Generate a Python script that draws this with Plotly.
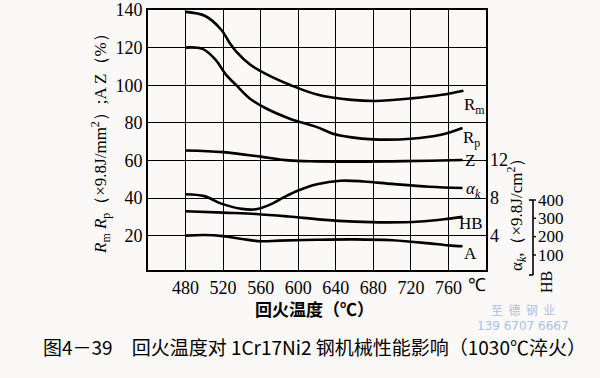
import plotly.graph_objects as go

# ---------------- data ----------------
temp_ticks = [480, 520, 560, 600, 640, 680, 720, 760]

rm_t = [480, 501, 518, 527, 534, 549, 567, 592, 621, 657, 682, 721, 753, 776]
rm_v = [139, 136.8, 129.5, 122.5, 117.9, 110.9, 105.6, 100, 94.9, 92.2, 91.6, 93, 94.9, 97.1]

rp_t = [480, 498, 512, 523, 534, 548, 566, 591, 620, 637, 655, 680, 720, 752, 775]
rp_v = [120, 119.3, 113.5, 105.6, 100, 93.1, 87.6, 82.2, 77.7, 74.2, 72.4, 71.2, 71.5, 73.6, 77.2]

z_t = [480, 520, 560, 590, 620, 660, 700, 740, 775]
z_v = [65.3, 64.4, 62, 60, 59.5, 59.3, 59.5, 59.8, 60.2]

ak_t = [480, 500, 518, 540, 555, 570, 585, 600, 620, 645, 670, 700, 740, 775]
ak_v = [8.4, 8.2, 7.4, 6.84, 6.8, 7.3, 8.1, 8.8, 9.46, 9.84, 9.76, 9.5, 9.2, 9.06]

hb_t = [480, 520, 555, 590, 625, 660, 695, 730, 755, 775]
hb_v = [339, 331, 324, 310, 293, 282, 278, 283, 295, 308]

a_t = [480, 500, 520, 540, 560, 580, 620, 660, 700, 737, 760, 775]
a_v = [20, 20.3, 19.7, 18.2, 17, 17.3, 17.8, 18, 17.5, 16, 14.8, 14.3]

left_ticks = [20, 40, 60, 80, 100, 120, 140]
ak_ticks = [4, 8, 12]
hb_ticks = [100, 200, 300, 400]

X_RANGE = [440, 800]
Y_RANGE = [1.7, 140]
AK_PER_LEFT = 5                 # right-hand scale: alpha_k 12 sits on the left-axis 60 line
HB_RANGE = [18.2, 1436.4]       # HB scale spanning the same height as Y_RANGE

# ---------------- figure ----------------
SERIF = "Liberation Serif"
CJK = "Noto Sans CJK SC"
W, H = 600, 378
ML, MR, MT, MB = 148, 10, 10, 108
PW = W - ML - MR          # paper width in px
PH = H - MT - MB          # paper height in px
PLOT_R = 486              # right edge of the plot frame (px)
HB_X = 533                # x of the HB scale (px)
BG = "#fbf8f8"


def px(x):
    return (x - ML) / PW


def py(y):
    return (H - MB - y) / PH


def ak_to_left(v):
    return v * AK_PER_LEFT


def hb_to_left(v):
    return Y_RANGE[0] + (v - HB_RANGE[0]) * (Y_RANGE[1] - Y_RANGE[0]) / (HB_RANGE[1] - HB_RANGE[0])


line_style = dict(color="black", width=2.6, shape="spline", smoothing=1.0)

fig = go.Figure()
for t, v in [(rm_t, rm_v), (rp_t, rp_v), (z_t, z_v), (a_t, a_v)]:
    fig.add_trace(go.Scatter(x=t, y=v, mode="lines", line=line_style,
                             hoverinfo="skip", showlegend=False))
fig.add_trace(go.Scatter(x=ak_t, y=[ak_to_left(v) for v in ak_v], mode="lines", line=line_style,
                         customdata=ak_v, hoverinfo="skip", showlegend=False))
fig.add_trace(go.Scatter(x=hb_t, y=[hb_to_left(v) for v in hb_v], mode="lines", line=line_style,
                         customdata=hb_v, hoverinfo="skip", showlegend=False))

tickfont = dict(family=SERIF, size=18, color="black")

fig.update_layout(
    template="none",
    width=W, height=H,
    margin=dict(l=ML, r=MR, t=MT, b=MB, pad=0),
    paper_bgcolor=BG, plot_bgcolor=BG,
    xaxis=dict(
        domain=[0, px(PLOT_R)], range=X_RANGE,
        tickvals=temp_ticks,
        showgrid=True, gridcolor="black", gridwidth=1.4,
        showline=True, linecolor="black", linewidth=2, mirror=True,
        zeroline=False, ticks="", tickfont=tickfont,
    ),
    yaxis=dict(
        range=Y_RANGE, tickvals=left_ticks,
        showgrid=True, gridcolor="black", gridwidth=1.4,
        showline=True, linecolor="black", linewidth=2, mirror=True,
        zeroline=False, ticks="", tickfont=tickfont,
    ),
)

anns = []

# right-hand alpha_k scale labels
for v in ak_ticks:
    anns.append(dict(text=str(v), x=px(PLOT_R + 2), y=ak_to_left(v), xref="paper", yref="y",
                     showarrow=False, xanchor="left", yanchor="middle", font=tickfont))

# HB scale: bracket, ticks and labels
def hb_paper(v):
    return (hb_to_left(v) - Y_RANGE[0]) / (Y_RANGE[1] - Y_RANGE[0])


bline = dict(color="black", width=1.6)
fig.add_shape(type="line", xref="paper", yref="paper", x0=px(HB_X), x1=px(HB_X),
              y0=hb_paper(400), y1=py(275), line=bline)
fig.add_shape(type="line", xref="paper", yref="paper", x0=px(HB_X - 4), x1=px(HB_X),
              y0=hb_paper(400), y1=hb_paper(400), line=bline)
fig.add_shape(type="line", xref="paper", yref="paper", x0=px(HB_X - 4), x1=px(HB_X),
              y0=py(275), y1=py(275), line=bline)
for v in hb_ticks:
    fig.add_shape(type="line", xref="paper", yref="paper", x0=px(HB_X), x1=px(HB_X + 3),
                  y0=hb_paper(v), y1=hb_paper(v), line=dict(color="black", width=1.4))
    anns.append(dict(text=str(v), x=px(HB_X + 3), y=hb_to_left(v), xref="paper", yref="y",
                     showarrow=False, xanchor="left", yanchor="middle",
                     font=dict(family=SERIF, size=17, color="black")))


def ann(text, x, y, size=17, family=SERIF, angle=0, color="black", xanchor="center", yanchor="middle"):
    anns.append(dict(text=text, x=px(x), y=py(y), xref="paper", yref="paper",
                     showarrow=False, textangle=angle, xanchor=xanchor, yanchor=yanchor,
                     font=dict(family=family, size=size, color=color)))


# curve labels
ann("R<sub>m</sub>", 474, 106)
ann("R<sub>p</sub>", 471, 139)
ann("Z", 470, 161)
ann("<i>α</i><sub><i>k</i></sub>", 473, 190)
ann("HB", 471, 223)
ann("A", 470, 253)

# degree sign at the end of x axis
ann("℃", 477, 285, size=18)

# axis titles
ann("<i>R</i><sub>m</sub> <i>R</i><sub>p</sub>（×9.8J/mm<sup>2</sup>）;A Z（%）", 100, 140, size=17, angle=-90)
ann("α<sub><i>k</i></sub>,（×9.8J/cm<sup>2</sup>）", 516, 211, size=17, angle=-90)
ann("HB", 546, 282, size=16, angle=-90)
ann("<b>回火温度（℃）</b>", 314, 308, size=17, family=CJK)

# caption
ann("图4－39　回火温度对 1Cr17Ni2 钢机械性能影响（1030℃淬火）", 314, 346, size=19, family=CJK)

# watermark
ann("至  德  钢  业", 523, 309, size=12, family=CJK, color="#aac2e4")
ann("139 6707 6667", 523, 326, size=12, family="DejaVu Sans", color="#aac2e4")

fig.update_layout(annotations=anns)

fig.write_html("out.html", config={"displayModeBar": False},
               post_script="document.body.style.margin='0px';")
